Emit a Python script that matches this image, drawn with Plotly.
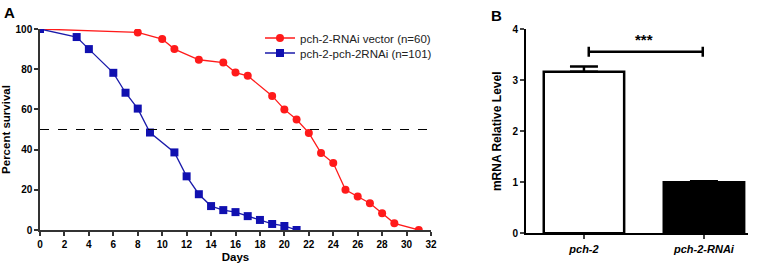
import plotly.graph_objects as go

W, H = 765, 263

# Panel A data
vector_days = [0, 8, 10, 11, 13, 15, 16, 17, 19, 20, 21, 22, 23, 24, 25, 26, 27, 28, 29, 31]
vector_surv = [100, 98.3, 95, 90, 84.7, 83.3, 78.3, 76.7, 66.7, 60, 55, 48.3, 38.3, 33.3, 20, 16.7, 13.3, 8.3, 3.3, 0]
rnai_days = [0, 3, 4, 6, 7, 8, 9, 11, 12, 13, 14, 15, 16, 17, 18, 19, 20, 21]
rnai_surv = [100, 96, 90, 78.2, 68.3, 60.4, 48.5, 38.6, 26.7, 17.8, 11.9, 9.9, 8.9, 6.9, 5, 3, 2, 0]
x_ticks_a = list(range(0, 33, 2))
y_ticks_a = [0, 20, 40, 60, 80, 100]

# Panel B data
categories = ["pch-2", "pch-2-RNAi"]
mrna_level = [3.17, 1.0]
mrna_err = [0.1, 0.02]
y_ticks_b = [0, 1, 2, 3, 4]

def px_x(a):
    return a / W

def px_y(t):
    return 1 - t / H

def px_dom_x(a, b):
    return [px_x(a), px_x(b)]

def px_dom_y(top, bottom):
    return [px_y(bottom), px_y(top)]

fig = go.Figure()
bold = dict(family="Arial", size=10, color="black", weight="bold")

fig.add_trace(go.Scatter(
    x=vector_days, y=vector_surv, mode="lines+markers",
    name="pch-2-RNAi vector (n=60)", legend="legend",
    line=dict(color="#ff1a1a", width=1.3),
    marker=dict(symbol="circle", size=8, color="#ff1a1a"),
    xaxis="x", yaxis="y"))
fig.add_trace(go.Scatter(
    x=rnai_days, y=rnai_surv, mode="lines+markers",
    name="pch-2-pch-2RNAi (n=101)", legend="legend2",
    line=dict(color="#1a1aaa", width=1.3),
    marker=dict(symbol="square", size=8, color="#1010b0"),
    xaxis="x", yaxis="y"))

fig.add_trace(go.Bar(
    x=[0, 1], y=mrna_level,
    marker=dict(color=["white", "black"], line=dict(color="black", width=2.5)),
    width=0.67,
    error_y=dict(type="data", array=mrna_err, arrayminus=[0, 0], symmetric=False,
                 color="black", thickness=2.5, width=14),
    showlegend=False, xaxis="x2", yaxis="y2"))

leg_common = dict(xanchor="left", yanchor="middle",
                  font=dict(family="Arial", size=11.5, color="#222"), bgcolor="rgba(0,0,0,0)",
                  itemwidth=30, tracegroupgap=0, borderwidth=0)

fig.update_layout(
    width=W, height=H, margin=dict(l=0, r=0, t=0, b=0, autoexpand=False),
    plot_bgcolor="white", paper_bgcolor="white",
    font=dict(family="Arial", color="black"),
    xaxis=dict(domain=px_dom_x(40, 431), range=[0, 32], tickvals=x_ticks_a, automargin=False,
               showline=True, linecolor="#333", linewidth=1.5, ticks="outside",
               ticklen=4, tickwidth=1.5, tickcolor="#333", showgrid=False, zeroline=False,
               tickfont=bold, title=dict(text="Days", font=dict(family="Arial", size=11.5, weight="bold"), standoff=5)),
    yaxis=dict(domain=px_dom_y(29, 230), range=[0, 100], tickvals=y_ticks_a, automargin=False,
               showline=True, linecolor="#333", linewidth=1.5, ticks="outside",
               ticklen=4, tickwidth=1.5, tickcolor="#333", showgrid=False, zeroline=False,
               tickfont=bold, title=dict(text="Percent survival", font=dict(family="Arial", size=11.5, weight="bold"), standoff=6)),
    xaxis2=dict(domain=px_dom_x(526, 748), range=[-0.483, 1.367], tickvals=[0, 1], automargin=False,
                ticktext=["<i>pch-2</i>", "<i>pch-2-RNAi</i>"],
                showline=True, linecolor="black", linewidth=2, ticks="outside",
                ticklen=4, tickwidth=1.5, showgrid=False, zeroline=False,
                tickfont=dict(family="Arial", size=11, weight="bold"), anchor="y2"),
    yaxis2=dict(domain=px_dom_y(29.3, 233.3), range=[0, 4], tickvals=y_ticks_b, automargin=False,
                showline=True, linecolor="black", linewidth=2, ticks="outside",
                ticklen=4, tickwidth=2, showgrid=False, zeroline=False,
                tickfont=bold, anchor="x2",
                title=dict(text="mRNA Relative Level", font=dict(family="Arial", size=12, weight="bold"), standoff=8)),
    legend=dict(x=px_x(260), y=px_y(38), **leg_common),
    legend2=dict(x=px_x(260), y=px_y(53), **leg_common),
    bargap=0.3,
)

# dashed 50% line
fig.add_shape(type="line", xref="x", yref="y", x0=0, x1=32, y0=50, y1=50,
              line=dict(color="black", width=1.2, dash="dash"))

# significance bracket
fig.add_shape(type="line", xref="x2", yref="y2", x0=0.04, x1=0.99, y0=3.56, y1=3.56,
              line=dict(color="black", width=2.5))
fig.add_shape(type="line", xref="x2", yref="y2", x0=0.04, x1=0.04, y0=3.46, y1=3.66,
              line=dict(color="black", width=2.5))
fig.add_shape(type="line", xref="x2", yref="y2", x0=0.99, x1=0.99, y0=3.46, y1=3.66,
              line=dict(color="black", width=2.5))
fig.add_annotation(x=0.5, y=3.6, xref="x2", yref="y2", text="***", showarrow=False,
                   font=dict(family="Arial", size=15, weight="bold"), yanchor="bottom")

# panel labels
fig.add_annotation(x=px_x(2), y=px_y(2), xref="paper", yref="paper", text="A", showarrow=False,
                   xanchor="left", yanchor="top", font=dict(family="Arial", size=15, weight="bold"))
fig.add_annotation(x=px_x(489), y=px_y(5), xref="paper", yref="paper", text="B", showarrow=False,
                   xanchor="left", yanchor="top", font=dict(family="Arial", size=15, weight="bold"))

fig.write_html("out.html", config={"displayModeBar": False},
               post_script="document.body.style.margin='0';document.body.style.overflow='hidden';")
